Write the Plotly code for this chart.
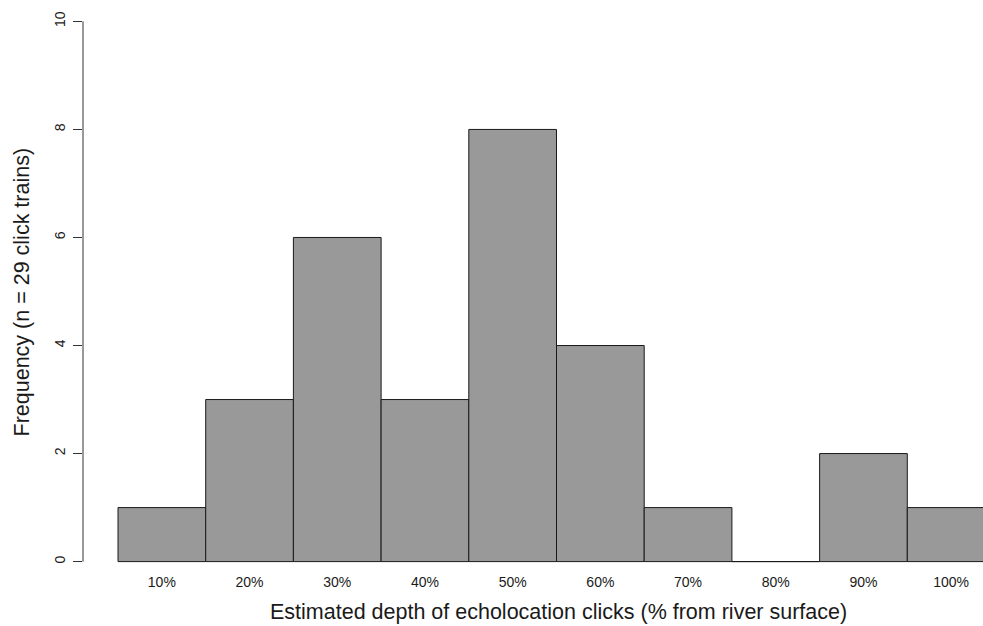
import plotly.graph_objects as go

depth_labels = ["10%", "20%", "30%", "40%", "50%", "60%", "70%", "80%", "90%", "100%"]
counts = [1, 3, 6, 3, 8, 4, 1, 0, 2, 1]
y_ticks = [0, 2, 4, 6, 8, 10]

x_pos = list(range(1, len(depth_labels) + 1))

FONT = "Liberation Sans, Arial, Helvetica, sans-serif"

fig = go.Figure()
fig.add_trace(go.Bar(
    x=x_pos,
    y=counts,
    width=1.0,
    marker=dict(color="#999999", line=dict(color="#1a1a1a", width=1)),
    showlegend=False,
))

fig.update_layout(
    width=983,
    height=626,
    margin=dict(l=83, r=0, t=16, b=59),
    paper_bgcolor="white",
    plot_bgcolor="white",
    font=dict(family=FONT, color="#222222"),
    xaxis=dict(
        range=[0.1009, 10.363],
        tickvals=x_pos,
        ticktext=depth_labels,
        showgrid=False,
        zeroline=False,
        showline=False,
        ticks="outside",
        ticklen=2,
        tickcolor="rgba(0,0,0,0)",
        tickfont=dict(size=14, family=FONT, color="#1a1a1a"),
    ),
    yaxis=dict(
        range=[-0.1, 10.1],
        tickvals=y_ticks,
        ticktext=[str(v) for v in y_ticks],
        tickangle=-90,
        showgrid=False,
        zeroline=False,
        showline=False,
        ticks="outside",
        ticklen=9,
        tickwidth=1,
        tickcolor="#333333",
        ticklabelstandoff=2,
        tickfont=dict(size=14, family=FONT, color="#1a1a1a"),
    ),
    shapes=[dict(
        type="line", xref="paper", yref="y",
        x0=0, x1=0, y0=y_ticks[0], y1=y_ticks[-1],
        line=dict(color="#333333", width=1),
    )],
    annotations=[
        dict(text="Estimated depth of echolocation clicks (% from river surface)",
             xref="paper", yref="paper", x=0.5278, y=-0.0817,
             xanchor="center", yanchor="middle", showarrow=False,
             font=dict(size=21.5, family=FONT, color="#1a1a1a")),
        dict(text="Frequency (n = 29 click trains)",
             xref="paper", yref="paper", x=-0.0678, y=0.5,
             xanchor="center", yanchor="middle", textangle=-90, showarrow=False,
             font=dict(size=21.5, family=FONT, color="#1a1a1a")),
    ],
)

fig.write_html(
    "out.html",
    config={"displayModeBar": False},
    post_script="document.body.style.margin='0';"
                "document.body.style.overflow='hidden';"
                "document.documentElement.style.overflow='hidden';",
)
